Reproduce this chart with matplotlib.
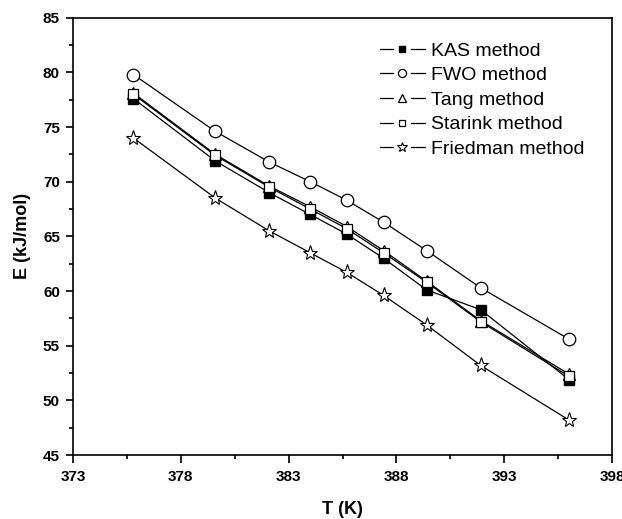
import matplotlib
matplotlib.use("Agg")
import matplotlib.pyplot as plt
from matplotlib.lines import Line2D
from matplotlib.legend_handler import HandlerLine2D
from matplotlib.ticker import FixedLocator

plt.rcParams['font.family'] = ['Liberation Sans', 'DejaVu Sans']

# Activation energy vs temperature for each isoconversional method
T = [375.8, 379.6, 382.1, 384.0, 385.7, 387.4, 389.4, 391.9, 396.0]
E_kas = [77.6, 71.9, 69.0, 67.0, 65.2, 63.0, 60.1, 58.3, 51.9]
E_fwo = [79.8, 74.6, 71.8, 70.0, 68.3, 66.3, 63.7, 60.3, 55.6]
E_tang = [78.1, 72.5, 69.6, 67.7, 65.9, 63.7, 60.9, 57.3, 52.4]
E_starink = [78.0, 72.4, 69.5, 67.5, 65.7, 63.5, 60.8, 57.2, 52.2]
E_friedman = [74.0, 68.5, 65.5, 63.5, 61.7, 59.6, 56.9, 53.2, 48.2]

labels = ['KAS method', 'FWO method', 'Tang method', 'Starink method', 'Friedman method']
x_ticks = [373, 378, 383, 388, 393, 398]
y_ticks = [45, 50, 55, 60, 65, 70, 75, 80, 85]


class GapLineHandler(HandlerLine2D):
    """legend entry drawn as  line - marker - line  with small gaps"""

    def create_artists(self, legend, orig_handle, xdescent, ydescent,
                       width, height, fontsize, trans):
        y = height / 2.0 - ydescent
        x0 = -xdescent
        seg = width * 0.3
        left = Line2D([x0, x0 + seg], [y, y], color='black', lw=0.9)
        right = Line2D([x0 + width - seg, x0 + width], [y, y], color='black', lw=0.9)
        mk = Line2D([x0 + width / 2.0], [y], linestyle='none')
        self.update_prop(mk, orig_handle, legend)
        mk.set_linestyle('none')
        mk.set_markersize(orig_handle.get_markersize() * 0.65)
        for a in (left, right, mk):
            a.set_transform(trans)
        return [left, right, mk]


fig = plt.figure(figsize=(6.22, 5.19), dpi=100)
ax = fig.add_axes([0.1174, 0.1233, 0.8666, 0.8426])

lw = 0.9
ax.plot(T, E_kas, '-', color='black', lw=lw, marker='s', ms=7,
        mfc='black', mec='black', label=labels[0])
ax.plot(T, E_fwo, '-', color='black', lw=lw, marker='o', ms=9,
        mfc='white', mec='black', mew=0.9, label=labels[1])
ax.plot(T, E_tang, '-', color='black', lw=lw, marker='^', ms=8,
        mfc='white', mec='black', mew=0.9, label=labels[2])
ax.plot(T, E_starink, '-', color='black', lw=lw, marker='s', ms=7,
        mfc='white', mec='black', mew=0.9, label=labels[3])
ax.plot(T, E_friedman, '-', color='black', lw=lw, marker='*', ms=11,
        mfc='white', mec='black', mew=0.8, label=labels[4])

ax.set_xlim(373, 398)
ax.set_ylim(45, 85)
ax.xaxis.set_major_locator(FixedLocator(x_ticks))
ax.xaxis.set_minor_locator(FixedLocator([t + 2.5 for t in x_ticks[:-1]]))
ax.yaxis.set_major_locator(FixedLocator(y_ticks))
ax.yaxis.set_minor_locator(FixedLocator([t + 2.5 for t in y_ticks[:-1]]))
ax.tick_params(which='both', direction='out', top=False, right=False, width=1.2)
ax.tick_params(which='major', length=5.4, labelsize=11)
ax.tick_params(which='minor', length=3)
ax.tick_params(axis='x', which='major', pad=5.5)
ax.tick_params(axis='y', which='major', pad=4)
for lab in ax.get_xticklabels() + ax.get_yticklabels():
    lab.set_fontweight('bold')
for sp in ax.spines.values():
    sp.set_linewidth(1.2)

ax.set_xlabel('T (K)', fontsize=13, fontweight='bold', labelpad=12)
ax.set_ylabel('E (kJ/mol)', fontsize=13, fontweight='bold', labelpad=8.5)

handles, _ = ax.get_legend_handles_labels()
leg = ax.legend(handles, labels, loc='upper left', bbox_to_anchor=(0.611, 0.919),
                bbox_transform=fig.transFigure, frameon=False,
                fontsize=14, handlelength=2.3, handletextpad=0.3,
                labelspacing=0.36, borderaxespad=0, borderpad=0,
                handler_map={Line2D: GapLineHandler()})

fig.savefig('out.png', dpi=100)
